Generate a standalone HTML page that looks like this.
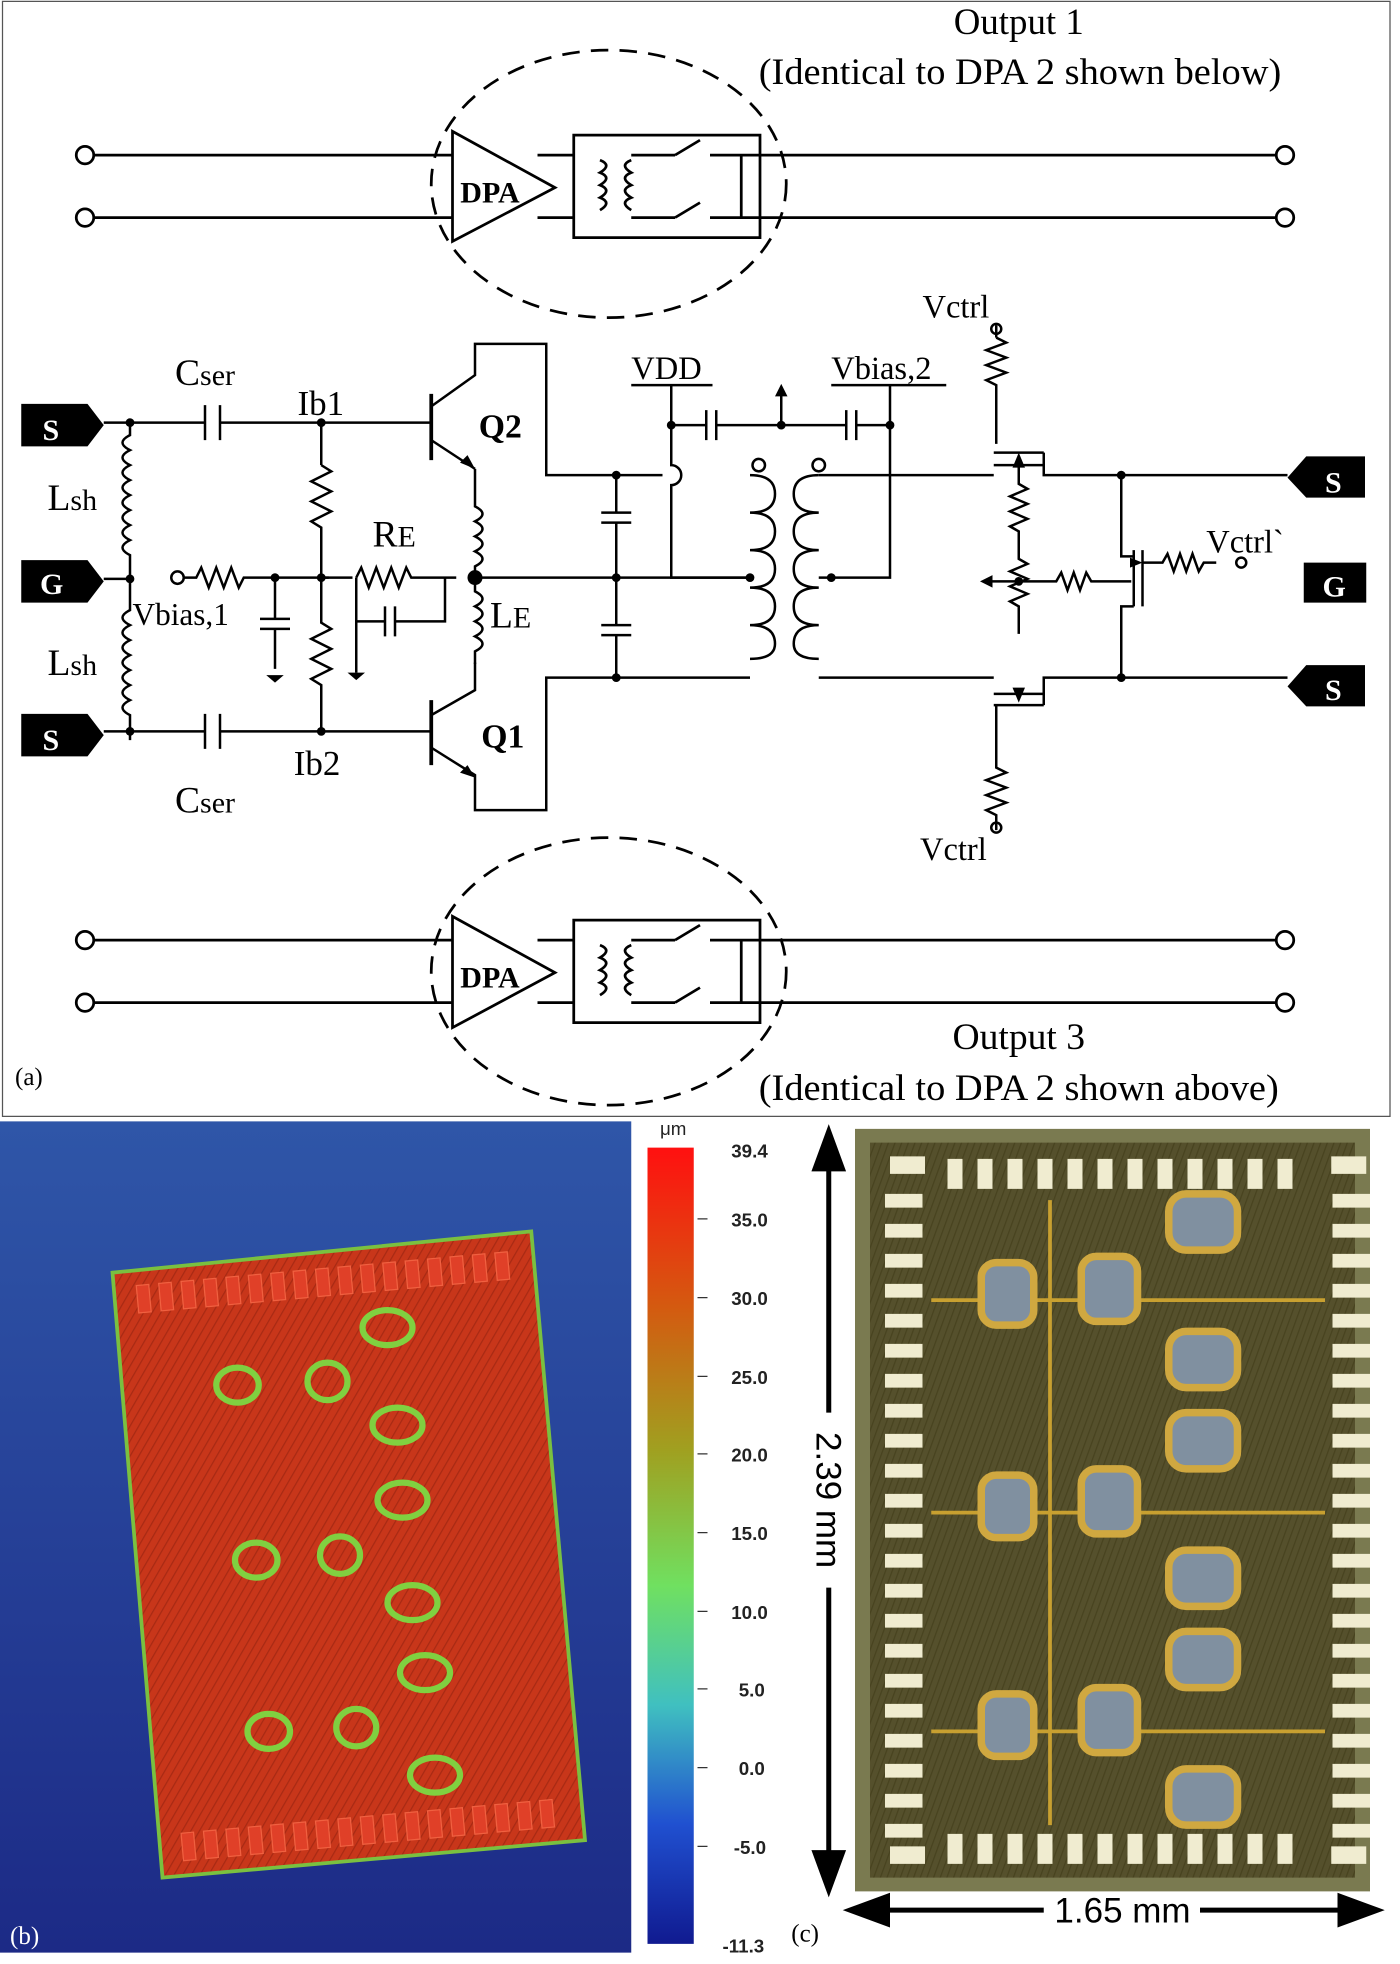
<!DOCTYPE html>
<html><head><meta charset="utf-8"><style>html,body{margin:0;padding:0;background:#fff}svg{display:block}</style></head>
<body>
<svg width="1400" height="1964" viewBox="0 0 1120 1571" xmlns="http://www.w3.org/2000/svg">
<defs>
<linearGradient id="bg" x1="0" y1="0" x2="0" y2="1"><stop offset="0" stop-color="#2f56a8"/><stop offset="1" stop-color="#1c2a86"/></linearGradient>
<linearGradient id="cb" x1="0" y1="0" x2="0" y2="1">
<stop offset="0" stop-color="#ff1010"/><stop offset="0.2" stop-color="#d45a10"/><stop offset="0.38" stop-color="#a0a020"/><stop offset="0.55" stop-color="#70e060"/><stop offset="0.7" stop-color="#40c0c0"/><stop offset="0.85" stop-color="#2050d0"/><stop offset="1" stop-color="#101a90"/></linearGradient>
<pattern id="hatch" width="6" height="6" patternUnits="userSpaceOnUse" patternTransform="rotate(30)"><rect width="6" height="6" fill="#c8361a"/><line x1="0" y1="0" x2="0" y2="6" stroke="#a82a14" stroke-width="2"/></pattern>
<pattern id="olive" width="5" height="5" patternUnits="userSpaceOnUse" patternTransform="rotate(20)"><rect width="5" height="5" fill="#55502c"/><line x1="0" y1="0" x2="0" y2="5" stroke="#48431f" stroke-width="2"/></pattern>
</defs>
<rect x="0" y="0" width="1120" height="1571" fill="#fff"/>
<rect x="2" y="1" width="1110" height="892" fill="#fff" stroke="#555" stroke-width="1"/>
<g font-family="Liberation Serif, serif" fill="#000">
<!-- top DPA -->
<g stroke="#000" stroke-width="2.2" fill="none">
<line x1="74" y1="124" x2="362" y2="124"/><line x1="74" y1="174" x2="362" y2="174"/>
<line x1="430" y1="124" x2="1022" y2="124"/><line x1="430" y1="174" x2="1022" y2="174"/>
<circle cx="68" cy="124" r="7" fill="#fff"/><circle cx="68" cy="174" r="7" fill="#fff"/>
<circle cx="1028" cy="124" r="7" fill="#fff"/><circle cx="1028" cy="174" r="7" fill="#fff"/>
<polygon points="362,105 362,193 444,150" fill="#fff"/>
<rect x="459" y="108" width="149" height="82" fill="#fff"/>
<path d="M480,128 q10,4 0,10 q10,4 0,10 q10,4 0,10 q10,4 0,10"/>
<path d="M505,128 q-10,4 0,10 q-10,4 0,10 q-10,4 0,10 q-10,4 0,10"/>
<line x1="505" y1="124" x2="540" y2="124"/><line x1="540" y1="124" x2="560" y2="112"/><line x1="568" y1="124" x2="608" y2="124"/>
<line x1="505" y1="174" x2="540" y2="174"/><line x1="540" y1="174" x2="560" y2="162"/><line x1="568" y1="174" x2="608" y2="174"/>
<line x1="593" y1="124" x2="593" y2="174"/>
<ellipse cx="487" cy="147" rx="142" ry="107" stroke-dasharray="14,9"/>
</g>
<text x="392" y="162" font-size="24" font-weight="bold" text-anchor="middle">DPA</text>
<text x="763" y="27" font-size="30" textLength="104" lengthAdjust="spacingAndGlyphs">Output 1</text>
<text x="607" y="67" font-size="30" textLength="418" lengthAdjust="spacingAndGlyphs">(Identical to DPA 2 shown below)</text>
<!-- bottom DPA -->
<g stroke="#000" stroke-width="2.2" fill="none">
<line x1="74" y1="752" x2="362" y2="752"/><line x1="74" y1="802" x2="362" y2="802"/>
<line x1="430" y1="752" x2="1022" y2="752"/><line x1="430" y1="802" x2="1022" y2="802"/>
<circle cx="68" cy="752" r="7" fill="#fff"/><circle cx="68" cy="802" r="7" fill="#fff"/>
<circle cx="1028" cy="752" r="7" fill="#fff"/><circle cx="1028" cy="802" r="7" fill="#fff"/>
<polygon points="362,733 362,822 444,778" fill="#fff"/>
<rect x="459" y="736" width="149" height="82" fill="#fff"/>
<path d="M480,756 q10,4 0,10 q10,4 0,10 q10,4 0,10 q10,4 0,10"/>
<path d="M505,756 q-10,4 0,10 q-10,4 0,10 q-10,4 0,10 q-10,4 0,10"/>
<line x1="505" y1="752" x2="540" y2="752"/><line x1="540" y1="752" x2="560" y2="740"/><line x1="568" y1="752" x2="608" y2="752"/>
<line x1="505" y1="802" x2="540" y2="802"/><line x1="540" y1="802" x2="560" y2="790"/><line x1="568" y1="802" x2="608" y2="802"/>
<line x1="593" y1="752" x2="593" y2="802"/>
<ellipse cx="487" cy="777" rx="142" ry="107" stroke-dasharray="14,9"/>
</g>
<text x="392" y="790" font-size="24" font-weight="bold" text-anchor="middle">DPA</text>
<text x="762" y="839" font-size="30" textLength="106" lengthAdjust="spacingAndGlyphs">Output 3</text>
<text x="607" y="880" font-size="30" textLength="416" lengthAdjust="spacingAndGlyphs">(Identical to DPA 2 shown above)</text>
<text x="12" y="868" font-size="20">(a)</text>

<!-- middle circuit -->
<g stroke="#000" stroke-width="2" fill="none">
<line x1="83" y1="338" x2="164" y2="338"/><line x1="176" y1="338" x2="345" y2="338"/>
<line x1="164" y1="324" x2="164" y2="352"/><line x1="176" y1="324" x2="176" y2="352"/>
<line x1="83" y1="585" x2="164" y2="585"/><line x1="176" y1="585" x2="345" y2="585"/>
<line x1="164" y1="571" x2="164" y2="599"/><line x1="176" y1="571" x2="176" y2="599"/>
<path d="M104,338 v10 q-12,6 0,12 q-12,6 0,12 q-12,6 0,12 q-12,6 0,12 q-12,6 0,12 q-12,6 0,12 q-12,6 0,12 q-12,6 0,12 v21"/>
<path d="M104,463 v25 q-12,6 0,12 q-12,6 0,12 q-12,6 0,12 q-12,6 0,12 q-12,6 0,12 q-12,6 0,12 q-12,6 0,12 v20"/>
<line x1="83" y1="463" x2="104" y2="463"/>
<line x1="257" y1="338" x2="257" y2="372"/>
<path d="M257,372 l8,5 l-16,8 l16,8 l-16,8 l16,8 l-16,8 l8,5 v41"/>
<path d="M257,463 v35 l8,5 l-16,8 l16,8 l-16,8 l16,8 l-16,8 l8,5 v40"/>
<circle cx="142" cy="462" r="5"/>
<path d="M147,462 h10 l4,-8 l6,16 l6,-16 l6,16 l6,-16 l6,16 l4,-8 h68"/>
<line x1="220" y1="462" x2="220" y2="495"/><line x1="208" y1="495" x2="232" y2="495"/><line x1="208" y1="503" x2="232" y2="503"/><line x1="220" y1="503" x2="220" y2="535"/>
<path d="M257,462 h25 v0"/>
<path d="M285,462 l4,-8 l6,16 l6,-16 l6,16 l6,-16 l6,16 l6,-16 l4,8 h36"/>
<line x1="285" y1="462" x2="285" y2="538"/>
<path d="M285,497 h23 M308,485 v24 M316,485 v24 M316,497 h40 v-35"/>
<line x1="345" y1="315" x2="345" y2="368" stroke-width="3"/>
<path d="M345,325 L380,300 V275 H437 V380 H530"/>
<line x1="345" y1="352" x2="380" y2="375"/>
<path d="M380,375 v30 q12,6 0,12 q12,6 0,12 q12,6 0,12 q12,6 0,12 v10 v10 q12,6 0,12 q12,6 0,12 q12,6 0,12 q12,6 0,12 v10"/>
<line x1="345" y1="560" x2="345" y2="612" stroke-width="3"/>
<path d="M345,572 L380,552 V530"/>
<path d="M345,598 L380,620 V648 H437 V542 H600"/>
<line x1="380" y1="462" x2="600" y2="462"/>
<path d="M493,380 v30 M481,410 h24 M481,418 h24 M493,418 v44 v38 M481,500 h24 M481,508 h24 M493,508 v34"/>
<path d="M505,308 h65 M537,308 v64 a8,8 0 0 1 0,16 v74 h63"/>
<path d="M537,340 h28 M565,328 v24 M573,328 v24 M573,340 h104 M677,328 v24 M685,328 v24 M685,340 h27"/>
<line x1="625" y1="340" x2="625" y2="312"/>
<path d="M665,308 h92 M712,308 v154 h-57"/>
<path d="M600,380 h0 q20,0 20,15 q0,15 -20,15 q20,0 20,15 q0,15 -20,15 q20,0 20,15 q0,15 -20,15 q20,0 20,15 q0,15 -20,15 q20,0 20,15 q0,12 -20,12"/>
<path d="M655,380 q-20,0 -20,15 q0,15 20,15 q-20,0 -20,15 q0,15 20,15 q-20,0 -20,15 q0,15 20,15 q-20,0 -20,15 q0,15 20,15 q-20,0 -20,15 q0,12 20,12"/>
<path d="M655,380 h140 M655,542 h140"/>
<circle cx="607" cy="372" r="5"/><circle cx="655" cy="372" r="5"/>
<line x1="797" y1="260" x2="797" y2="270"/>
<path d="M797,270 l8,4 l-16,6 l16,6 l-16,6 l16,6 l-16,6 l8,4 v47"/>
<path d="M795,362 h40 M795,372 h40 M835,362 v18 h195"/>
<path d="M795,555 h40 M795,564 h40 M835,564 v-22 h195"/>
<path d="M797,564 v50 l8,4 l-16,6 l16,6 l-16,6 l16,6 l-16,6 l8,4 v12"/>
<circle cx="797" cy="263" r="4"/><circle cx="797" cy="662" r="4"/>
<path d="M815,372 v15 l7,4 l-14,6 l14,6 l-14,6 l14,6 l-14,6 l7,4 v12 v10 l7,4 l-14,6 l14,6 l-14,6 l14,6 l-14,6 l7,4 v22"/>
<path d="M790,465 h55 l4,-7 l5,14 l5,-14 l5,14 l5,-14 l4,7 h32"/>
<path d="M897,380 v65 h10 M907,440 v45 M914,440 v45 M907,485 h-10 v57"/>
<path d="M914,450 h16 l4,-7 l5,14 l5,-14 l5,14 l5,-14 l5,14 l4,-7 h10"/>
<circle cx="993" cy="450" r="4"/>
</g>
<g fill="#000">
<circle cx="104" cy="338" r="3.5"/><circle cx="104" cy="585" r="3.5"/><circle cx="104" cy="463" r="3.5"/>
<circle cx="257" cy="338" r="3.5"/><circle cx="257" cy="585" r="3.5"/><circle cx="257" cy="462" r="3.5"/><circle cx="220" cy="462" r="3.5"/>
<circle cx="380" cy="462" r="6"/><circle cx="493" cy="380" r="3.5"/><circle cx="493" cy="462" r="3.5"/><circle cx="493" cy="542" r="3.5"/>
<circle cx="600" cy="462" r="3.5"/><circle cx="665" cy="462" r="3.5"/><circle cx="537" cy="340" r="3.5"/><circle cx="625" cy="340" r="3.5"/><circle cx="712" cy="340" r="3.5"/>
<circle cx="897" cy="380" r="3.5"/><circle cx="897" cy="542" r="3.5"/><circle cx="815" cy="465" r="3.5"/>
<polygon points="380,375 368,370 374,364"/><polygon points="380,622 368,618 374,612"/>
<polygon points="625,307 620,317 630,317"/><polygon points="784,465 794,460 794,470"/>
<polygon points="815,362 810,374 820,374"/><polygon points="815,562 810,550 820,550"/>
<polygon points="213,540 227,540 220,546"/><polygon points="278,538 292,538 285,544"/>
<polygon points="914,450 904,446 904,454"/>
<polygon points="17,323 70,323 83,340 70,357 17,357"/>
<polygon points="17,448 70,448 83,465 70,482 17,482"/>
<polygon points="17,571 70,571 83,588 70,605 17,605"/>
<polygon points="1092,365 1045,365 1030,382 1045,398 1092,398"/>
<rect x="1043" y="450" width="50" height="32"/>
<polygon points="1092,532 1045,532 1030,549 1045,565 1092,565"/>
</g>
<g fill="#fff" font-size="24" font-weight="bold">
<text x="34" y="352">S</text><text x="32" y="475">G</text><text x="34" y="600">S</text>
<text x="1060" y="394">S</text><text x="1058" y="477">G</text><text x="1060" y="560">S</text>
</g>
<g font-size="30">
<text x="140" y="308">C<tspan font-size="24">ser</tspan></text>
<text x="140" y="650">C<tspan font-size="24">ser</tspan></text>
<text x="38" y="408">L<tspan font-size="24">sh</tspan></text>
<text x="38" y="540">L<tspan font-size="24">sh</tspan></text>
<text x="238" y="332" font-size="28">Ib1</text>
<text x="235" y="620" font-size="28">Ib2</text>
<text x="298" y="437">R<tspan font-size="24">E</tspan></text>
<text x="392" y="502">L<tspan font-size="24">E</tspan></text>
<text x="106" y="500" font-size="25">Vbias,1</text>
<text x="383" y="350" font-size="27" font-weight="bold">Q2</text>
<text x="385" y="598" font-size="27" font-weight="bold">Q1</text>
<text x="505" y="303" font-size="26">VDD</text>
<text x="665" y="303" font-size="26">Vbias,2</text>
<text x="738" y="254" font-size="26">Vctrl</text>
<text x="736" y="688" font-size="26">Vctrl</text>
<text x="965" y="442" font-size="26">Vctrl`</text>
</g>
</g>

<!-- panel b -->
<rect x="0" y="897" width="505" height="665" fill="url(#bg)"/>
<polygon points="90,1018 425,985 468,1472 130,1502" fill="url(#hatch)" stroke="#7ac040" stroke-width="3"/>
<g transform="translate(90,1018) rotate(-5.2)">
<g fill="#e04028" stroke="#f06040" stroke-width="1">
<rect x="18" y="12" width="10" height="22"/><rect x="36" y="12" width="10" height="22"/><rect x="54" y="12" width="10" height="22"/><rect x="72" y="12" width="10" height="22"/><rect x="90" y="12" width="10" height="22"/><rect x="108" y="12" width="10" height="22"/><rect x="126" y="12" width="10" height="22"/><rect x="144" y="12" width="10" height="22"/><rect x="162" y="12" width="10" height="22"/><rect x="180" y="12" width="10" height="22"/><rect x="198" y="12" width="10" height="22"/><rect x="216" y="12" width="10" height="22"/><rect x="234" y="12" width="10" height="22"/><rect x="252" y="12" width="10" height="22"/><rect x="270" y="12" width="10" height="22"/><rect x="288" y="12" width="10" height="22"/><rect x="306" y="12" width="10" height="22"/>
</g>
</g>
<g transform="translate(130,1502) rotate(-5.2)">
<g fill="#e04028" stroke="#f06040" stroke-width="1">
<rect x="18" y="-34" width="10" height="22"/><rect x="36" y="-34" width="10" height="22"/><rect x="54" y="-34" width="10" height="22"/><rect x="72" y="-34" width="10" height="22"/><rect x="90" y="-34" width="10" height="22"/><rect x="108" y="-34" width="10" height="22"/><rect x="126" y="-34" width="10" height="22"/><rect x="144" y="-34" width="10" height="22"/><rect x="162" y="-34" width="10" height="22"/><rect x="180" y="-34" width="10" height="22"/><rect x="198" y="-34" width="10" height="22"/><rect x="216" y="-34" width="10" height="22"/><rect x="234" y="-34" width="10" height="22"/><rect x="252" y="-34" width="10" height="22"/><rect x="270" y="-34" width="10" height="22"/><rect x="288" y="-34" width="10" height="22"/><rect x="306" y="-34" width="10" height="22"/>
</g>
</g>
<g fill="none" stroke="#80d040" stroke-width="5">
<ellipse cx="190" cy="1108" rx="17" ry="14"/><ellipse cx="262" cy="1105" rx="16" ry="15"/><ellipse cx="310" cy="1062" rx="20" ry="14"/><ellipse cx="318" cy="1140" rx="20" ry="14"/>
<ellipse cx="205" cy="1248" rx="17" ry="14"/><ellipse cx="272" cy="1244" rx="16" ry="15"/><ellipse cx="322" cy="1200" rx="20" ry="14"/><ellipse cx="330" cy="1282" rx="20" ry="14"/>
<ellipse cx="215" cy="1385" rx="17" ry="14"/><ellipse cx="285" cy="1382" rx="16" ry="15"/><ellipse cx="340" cy="1338" rx="20" ry="14"/><ellipse cx="348" cy="1420" rx="20" ry="14"/>
</g>
<text x="8" y="1555" font-family="Liberation Serif, serif" font-size="20" fill="#fff">(b)</text>

<!-- colorbar -->
<rect x="518" y="918" width="37" height="637" fill="url(#cb)"/>
<g font-family="Liberation Sans, sans-serif" font-size="15" font-weight="bold" fill="#222">
<text x="528" y="908" font-weight="normal">μm</text>
<text x="585" y="926">39.4</text><text x="585" y="981">35.0</text><text x="585" y="1044">30.0</text><text x="585" y="1107">25.0</text>
<text x="585" y="1169">20.0</text><text x="585" y="1232">15.0</text><text x="585" y="1295">10.0</text><text x="591" y="1357">5.0</text>
<text x="591" y="1420">0.0</text><text x="587" y="1483">-5.0</text><text x="578" y="1562">-11.3</text>
</g>
<g stroke="#333"><line x1="558" y1="975" x2="566" y2="975"/><line x1="558" y1="1038" x2="566" y2="1038"/><line x1="558" y1="1101" x2="566" y2="1101"/><line x1="558" y1="1163" x2="566" y2="1163"/><line x1="558" y1="1226" x2="566" y2="1226"/><line x1="558" y1="1289" x2="566" y2="1289"/><line x1="558" y1="1351" x2="566" y2="1351"/><line x1="558" y1="1414" x2="566" y2="1414"/><line x1="558" y1="1477" x2="566" y2="1477"/></g>

<!-- panel c -->
<rect x="684" y="903" width="412" height="610" fill="#7a7a50"/>
<rect x="696" y="914" width="388" height="588" fill="url(#olive)"/>
<g fill="#f0ecd0">
<g id="tp"><rect x="758" y="927" width="12" height="24"/><rect x="782" y="927" width="12" height="24"/><rect x="806" y="927" width="12" height="24"/><rect x="830" y="927" width="12" height="24"/><rect x="854" y="927" width="12" height="24"/><rect x="878" y="927" width="12" height="24"/><rect x="902" y="927" width="12" height="24"/><rect x="926" y="927" width="12" height="24"/><rect x="950" y="927" width="12" height="24"/><rect x="974" y="927" width="12" height="24"/><rect x="998" y="927" width="12" height="24"/><rect x="1022" y="927" width="12" height="24"/></g>
<use href="#tp" y="540"/>
<rect x="712" y="925" width="28" height="14"/><rect x="1065" y="925" width="28" height="14"/>
<rect x="712" y="1477" width="28" height="14"/><rect x="1065" y="1477" width="28" height="14"/>
</g>
<g fill="#f0ecd0" id="lp">
<rect x="708" y="955" width="30" height="11"/><rect x="708" y="979" width="30" height="11"/><rect x="708" y="1003" width="30" height="11"/><rect x="708" y="1027" width="30" height="11"/><rect x="708" y="1051" width="30" height="11"/><rect x="708" y="1075" width="30" height="11"/><rect x="708" y="1099" width="30" height="11"/><rect x="708" y="1123" width="30" height="11"/><rect x="708" y="1147" width="30" height="11"/><rect x="708" y="1171" width="30" height="11"/><rect x="708" y="1195" width="30" height="11"/><rect x="708" y="1219" width="30" height="11"/><rect x="708" y="1243" width="30" height="11"/><rect x="708" y="1267" width="30" height="11"/><rect x="708" y="1291" width="30" height="11"/><rect x="708" y="1315" width="30" height="11"/><rect x="708" y="1339" width="30" height="11"/><rect x="708" y="1363" width="30" height="11"/><rect x="708" y="1387" width="30" height="11"/><rect x="708" y="1411" width="30" height="11"/><rect x="708" y="1435" width="30" height="11"/><rect x="708" y="1459" width="30" height="11"/>
</g>
<use href="#lp" x="358"/>
<g stroke="#c8a030" stroke-width="3" fill="none">
<line x1="745" y1="1040" x2="1060" y2="1040"/><line x1="745" y1="1210" x2="1060" y2="1210"/><line x1="745" y1="1385" x2="1060" y2="1385"/>
<line x1="840" y1="960" x2="840" y2="1460"/>
</g>
<g stroke="#d0a840" stroke-width="6" fill="#8090a0">
<rect x="785" y="1010" width="42" height="50" rx="12"/><rect x="865" y="1005" width="45" height="52" rx="12"/><rect x="935" y="955" width="55" height="45" rx="14"/><rect x="935" y="1065" width="55" height="45" rx="14"/>
<rect x="785" y="1180" width="42" height="50" rx="12"/><rect x="865" y="1175" width="45" height="52" rx="12"/><rect x="935" y="1130" width="55" height="45" rx="14"/><rect x="935" y="1240" width="55" height="45" rx="14"/>
<rect x="785" y="1355" width="42" height="50" rx="12"/><rect x="865" y="1350" width="45" height="52" rx="12"/><rect x="935" y="1305" width="55" height="45" rx="14"/><rect x="935" y="1415" width="55" height="45" rx="14"/>
</g>
<g stroke="#000" stroke-width="4" fill="#000">
<line x1="663" y1="925" x2="663" y2="1130"/><line x1="663" y1="1270" x2="663" y2="1490"/>
<polygon points="663,905 652,935 674,935"/><polygon points="663,1512 652,1482 674,1482"/>
<line x1="700" y1="1528" x2="835" y2="1528"/><line x1="960" y1="1528" x2="1085" y2="1528"/>
<polygon points="680,1528 710,1517 710,1539"/><polygon points="1102,1528 1072,1517 1072,1539"/>
</g>
<text x="0" y="0" transform="translate(653,1200) rotate(90)" font-family="Liberation Sans, sans-serif" font-size="28" text-anchor="middle" fill="#000">2.39 mm</text>
<text x="898" y="1538" font-family="Liberation Sans, sans-serif" font-size="28" text-anchor="middle" fill="#000">1.65 mm</text>
<text x="633" y="1553" font-family="Liberation Serif, serif" font-size="20" fill="#000">(c)</text>
</svg>
</body></html>
